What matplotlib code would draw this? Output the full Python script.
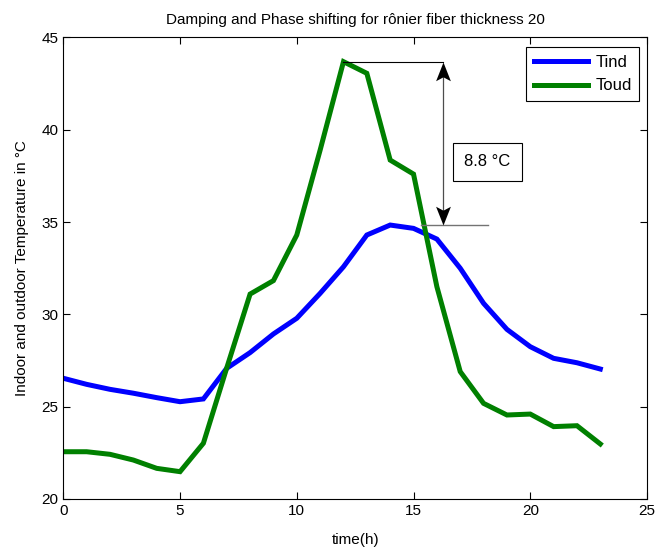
import matplotlib
matplotlib.use("Agg")
import matplotlib.pyplot as plt
from matplotlib.path import Path

hours = list(range(24))
tind = [26.54, 26.21, 25.94, 25.73, 25.49, 25.27, 25.42, 27.08, 27.93, 28.94, 29.79, 31.14,
        32.58, 34.30, 34.84, 34.66, 34.08, 32.50, 30.60, 29.19, 28.25, 27.62, 27.38, 27.04]
toud = [22.56, 22.56, 22.42, 22.11, 21.66, 21.48, 23.02, 27.1, 31.1, 31.83, 34.3, 38.9,
        43.69, 43.06, 38.36, 37.6, 31.5, 26.9, 25.18, 24.55, 24.6, 23.92, 23.97, 22.98]
amp_label = "8.8 °C"

plt.rcParams['font.family'] = ['Liberation Sans', 'DejaVu Sans']

fig = plt.figure(figsize=(6.58, 5.49), dpi=100)
ax = fig.add_axes([0.0962, 0.0911, 0.8871, 0.8406])

ax.plot(hours, tind, color=(0, 0, 1), lw=3.6, label='Tind', solid_joinstyle='miter')
ax.plot(hours, toud, color=(0, 0.5, 0), lw=3.6, label='Toud', solid_joinstyle='miter')

peak_x = hours[toud.index(max(toud))]
peak_y = max(toud)
tin_max = max(tind)
xa = 16.27
ax.plot([peak_x, xa], [peak_y, peak_y], color='black', lw=0.8)
ax.plot([15.3, 18.2], [tin_max, tin_max], color='0.45', lw=1.0)
ax.plot([xa, xa], [peak_y - 0.5, tin_max + 0.5], color='0.3', lw=0.9)

# concave arrow heads (tip at origin)
up_head = Path([(0, 0), (-7.5, -19), (0, -15), (7.5, -19), (0, 0)],
               [Path.MOVETO, Path.LINETO, Path.LINETO, Path.LINETO, Path.CLOSEPOLY])
down_head = Path([(0, 0), (-7.5, 19), (0, 15), (7.5, 19), (0, 0)],
                 [Path.MOVETO, Path.LINETO, Path.LINETO, Path.LINETO, Path.CLOSEPOLY])
ax.plot([xa], [peak_y], marker=up_head, ms=27, color='black', mew=0, linestyle='none')
ax.plot([xa], [tin_max], marker=down_head, ms=27, color='black', mew=0, linestyle='none')

ax.text(18.16, 38.26, amp_label, ha='center', va='center', fontsize=12,
        bbox=dict(boxstyle='square,pad=0.7', fc='white', ec='black', lw=0.8))

ax.set_xlim(0, 25)
ax.set_ylim(20, 45)
ax.set_xticks([0, 5, 10, 15, 20, 25])
ax.set_yticks([20, 25, 30, 35, 40, 45])
ax.tick_params(direction='in', top=True, right=True, labelsize=11, length=5, width=0.8)
for s in ax.spines.values():
    s.set_linewidth(0.8)

ax.set_xlabel('time(h)', fontsize=11, labelpad=11)
ax.set_ylabel('Indoor and outdoor Temperature in °C', fontsize=11, labelpad=9)
ax.set_title('Damping and Phase shifting for rônier fiber thickness 20', fontsize=11, pad=10)

leg = ax.legend(loc='upper right', fontsize=12, fancybox=False, edgecolor='black',
                framealpha=1, handlelength=3.25, handletextpad=0.42, borderpad=0.45,
                labelspacing=0.53, borderaxespad=0,
                bbox_to_anchor=(0.9863, 0.9794))
leg.get_frame().set_linewidth(0.8)

fig.savefig('out.png', dpi=100)
